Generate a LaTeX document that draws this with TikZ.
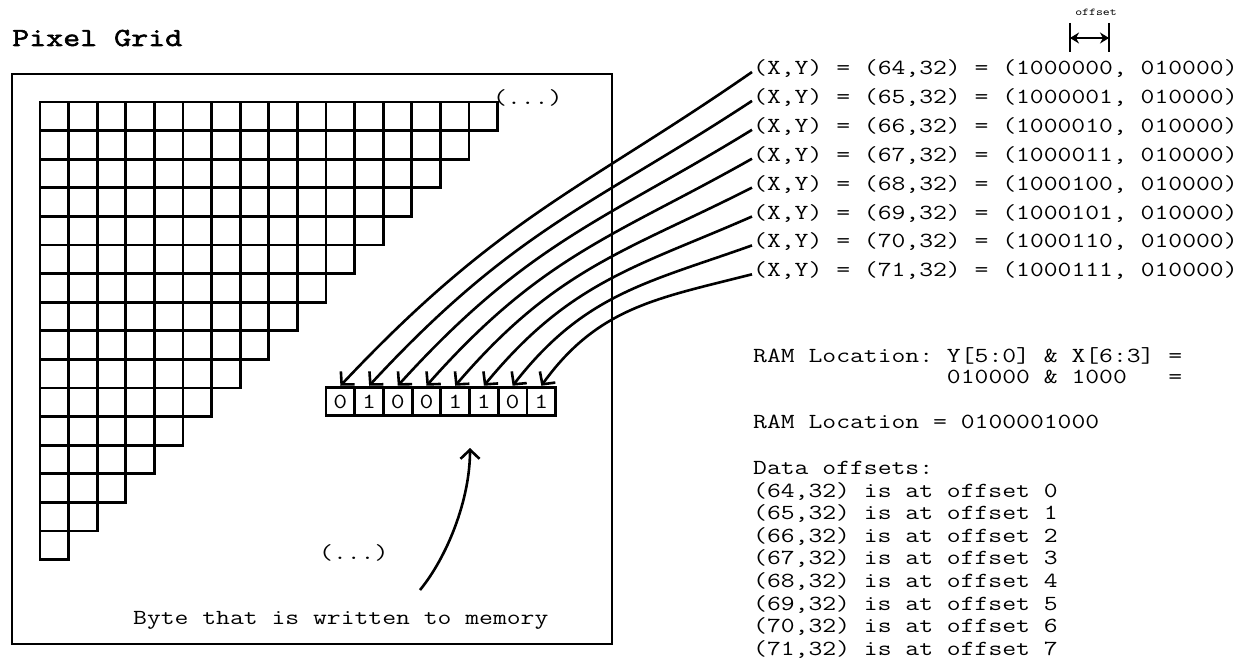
\documentclass[tikz,border=0pt]{standalone}
\usepackage{fontspec}
\newfontfamily\courfont{Latin Modern Mono}[FakeStretch=1.25]
\newfontfamily\courtitle{Latin Modern Mono}[FakeStretch=1.27,FakeBold=2.2]
\usetikzlibrary{arrows.meta,calc}
\frenchspacing
\begin{document}
\begin{tikzpicture}[x=1pt,y=-1pt,
  mono/.style={font=\fontsize{21.5}{21.5}\selectfont\courfont\frenchspacing},
  txt/.style={mono, inner sep=0pt, anchor=base west},
  gridline/.style={line width=2.8pt, line join=miter},
  frame/.style={line width=2.8pt},
  bitbox/.style={draw, line width=2.8pt, minimum width=28.7pt, minimum height=28.7pt, inner sep=0pt, mono},
  arr/.style={line width=2.6pt, -{Straight Barb[length=9pt,width=19pt]}},
  dimarr/.style={line width=2.6pt, {Stealth[length=9pt,width=11pt]}-{Stealth[length=9pt,width=11pt]}},
]
\useasboundingbox (0,0) rectangle (1238,660);

% title
\node[txt, font=\fontsize{26}{26}\selectfont\courtitle] (title) at (12,46) {Pixel Grid};

% frame
\draw[frame] (12,74) rectangle (612,644);

% staircase pixel grid
\foreach \r in {0,...,15}{
  \pgfmathtruncatemacro{\n}{15-\r}
  \foreach \c in {0,...,\n}{
    \draw[gridline] ({40+28.6*\c},{102+28.6*\r}) rectangle ++(28.6,28.6);
  }
}

% labels inside frame
\node[txt] (dotsA) at (493,104.5) {(...)};
\node[txt] (dotsB) at (319,559.5) {(...)};
\node[txt] (bytelbl) at (133,624.5) {Byte that is written to memory};

% byte cells
\foreach \d [count=\i from 0] in {0,1,0,0,1,1,0,1}
  \node[bitbox] (b\i) at ({340.4+28.7*\i},401.5) {\d};

% coordinate lines
\foreach \v/\b [count=\i from 0] in {64/000,65/001,66/010,67/011,68/100,69/101,70/110,71/111}
  \node[txt] (t\i) at (753,{74.5+28.9*\i}) {(X,Y) = (\v,32) = (1000\b, 010000)};

% arrows from coordinate lines to byte cells
\foreach \i in {0,...,7}{
  \pgfmathsetmacro{\ax}{-170+76*\i/7}
  \pgfmathsetmacro{\ay}{118-94*\i/7}
  \pgfmathsetmacro{\bx}{160-103*\i/7}
  \pgfmathsetmacro{\by}{-170+91*\i/7}
  \draw[arr] ($(t\i.base west)+(-1,-2.5)$) .. controls ($(t\i.base west)+(-1+\ax,-2.5+\ay)$) and ($(b\i.north)+(\bx,\by)$) .. (b\i.north);
}

% byte written arrow
\coordinate (ws) at (420,590);
\coordinate (we) at (470,448);
\draw[arr] (ws) .. controls (447,557) and (470,500) .. (we);

% RAM location text
\node[txt] (ram1) at (753,362) {RAM Location: Y[5:0] \& X[6:3] =};
\node[txt] (ram2) at (753,383) {\phantom{RAM~Location:~}010000 \& 1000~~~=};
\node[txt] (ram3) at (753,428) {RAM Location = 0100001000};

% data offsets
\node[txt] (d0) at (753,474.5) {Data offsets:};
\foreach \v [count=\i from 0] in {64,...,71}
  \node[txt] (d\v) at (753,{474.5+22.6*(\i+1)}) {(\v,32) is at offset \i};

% offset marker
\node[font=\fontsize{10.5}{10.5}\selectfont\courfont, inner sep=0pt] (offlbl) at (1096,12) {offset};
\coordinate (oa) at (1070,38);
\coordinate (ob) at (1109,38);
\draw[frame] ($(oa)+(0,-15)$) -- ($(oa)+(0,14)$);
\draw[frame] ($(ob)+(0,-15)$) -- ($(ob)+(0,14)$);
\draw[dimarr] (oa) -- (ob);
\end{tikzpicture}
\end{document}
